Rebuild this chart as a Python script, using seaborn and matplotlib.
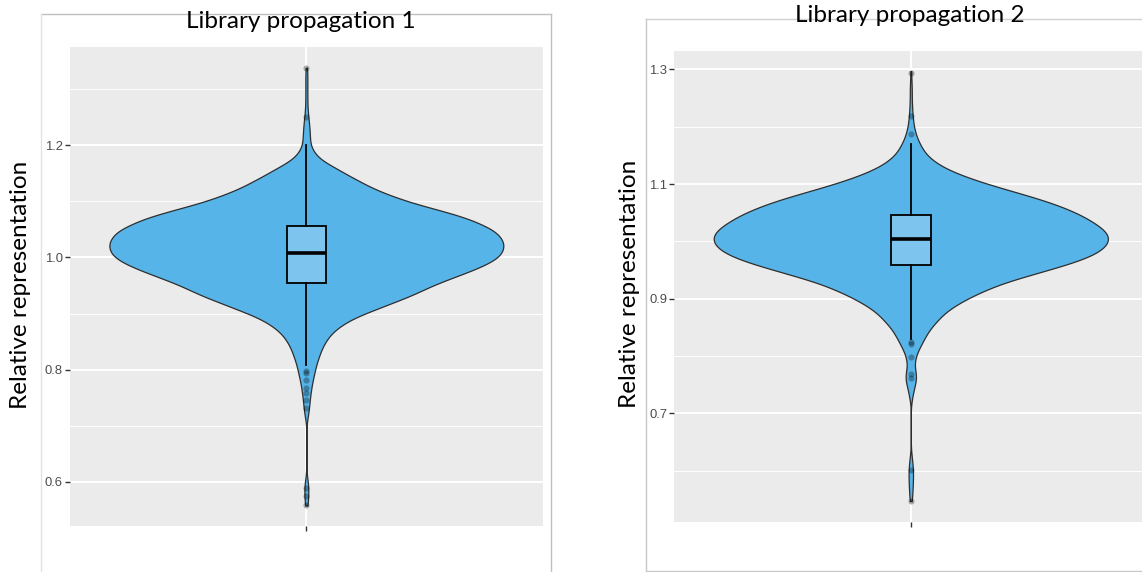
import numpy as np
import matplotlib
matplotlib.use("Agg")
import matplotlib.pyplot as plt
from matplotlib.lines import Line2D
import seaborn as sns

# Number of library members in each 0.01-wide bin of relative representation
bin_step = 0.01

bin_start_1 = 0.558
counts_1 = [5, 7, 8, 8, 7, 3, 1,
            0, 0, 0, 0, 0, 0, 0, 0,
            3, 6, 10, 12, 14, 17, 20, 24, 29, 34,
            39, 46, 54, 62, 74, 88, 108, 136, 172, 220,
            280, 336, 396, 448, 492, 548, 608, 668, 720, 760,
            782, 788, 788, 772, 752, 704, 656, 584, 500, 416,
            352, 292, 244, 204, 160, 124, 80, 48, 30, 18,
            15, 14, 13, 11, 9, 6, 5, 4, 4, 4,
            4, 4, 4, 3]

bin_start_2 = 0.547
counts_2 = [4, 6, 7, 8, 9, 9, 8, 6, 3, 1,
            0, 0, 0, 0, 0, 0, 0,
            2, 5, 10, 15, 21, 22, 17, 14, 19, 26,
            38, 50, 62, 76, 96, 116, 140, 172, 212, 256,
            308, 364, 440, 520, 600, 672, 728, 764, 784, 788,
            776, 748, 712, 672, 620, 560, 488, 408, 328, 256,
            192, 140, 100, 72, 52, 40, 28, 20, 14, 10,
            8, 6, 5, 4, 4, 4, 3, 2, 2]

# Box-plot summaries and outlying members
box_1 = dict(med=1.0075, q1=0.954, q3=1.056, whislo=0.809, whishi=1.200)
fliers_1 = [0.798, 0.794, 0.781, 0.768, 0.758, 0.746, 0.731,
            0.590, 0.575, 0.5585, 1.250, 1.337]
box_2 = dict(med=1.0044, q1=0.9592, q3=1.0455, whislo=0.8293, whishi=1.1696)
fliers_2 = [0.8246, 0.8206, 0.7984, 0.7694, 0.7617, 0.601, 0.5466,
            1.187, 1.2187, 1.2937]

titles = ["Library propagation 1", "Library propagation 2"]
ylabel = "Relative representation"
yticks_1 = [0.6, 0.8, 1.0, 1.2]
yminor_1 = [0.7, 0.9, 1.1, 1.3]
yticks_2 = [0.7, 0.9, 1.1, 1.3]
yminor_2 = [0.6, 0.8, 1.0, 1.2]

VIOLIN = "#56B4E9"
BOX = "#7DC4EF"
PANEL = "#EBEBEB"
W, H = 1142, 572

fig = plt.figure(figsize=(W / 100, H / 100), dpi=100)
fig.patch.set_facecolor("white")


def fx(px):
    return px / W


def fy(py):
    return 1 - py / H


def panel(rect, ylim, start, counts, box, fliers, ticks, minors):
    ax = fig.add_axes(rect)
    values = np.repeat(start + bin_step * np.arange(len(counts)), counts)
    bw = 0.0085 / np.std(values)
    sns.violinplot(y=values, ax=ax, color=VIOLIN, saturation=1, inner=None,
                   cut=0, width=1.0, density_norm="width", bw_method=bw,
                   gridsize=800, linewidth=0.9, linecolor="#2E2E2E")
    stats = dict(box)
    stats["fliers"] = fliers
    ax.bxp([stats], positions=[0], widths=0.1, patch_artist=True,
           showcaps=False, manage_ticks=False,
           boxprops=dict(facecolor=BOX, edgecolor="black", linewidth=1.3, zorder=3),
           whiskerprops=dict(color="black", linewidth=1.3, zorder=3),
           medianprops=dict(color="black", linewidth=2.6, zorder=4),
           flierprops=dict(marker="o", markersize=4.4, markerfacecolor="black",
                           markeredgecolor="none", alpha=0.3, zorder=5))
    ax.set_xlim(-0.6, 0.6)
    ax.set_ylim(*ylim)
    ax.set_facecolor(PANEL)
    for s in ax.spines.values():
        s.set_visible(False)
    ax.set_axisbelow(True)
    ax.set_yticks(ticks)
    ax.set_yticklabels([f"{t:.1f}" for t in ticks])
    ax.set_yticks(minors, minor=True)
    ax.set_xticks([0])
    ax.set_xticklabels([""])
    ax.set_xlabel("")
    ax.set_ylabel("")
    ax.grid(True, which="major", color="white", linewidth=1.4)
    ax.grid(True, which="minor", axis="y", color="white", linewidth=0.7)
    ax.tick_params(axis="both", which="major", length=3.7, width=1.0,
                   color="#333333", labelcolor="#4D4D4D", labelsize=9.4, pad=1.5)
    ax.tick_params(axis="y", which="minor", length=0)
    for lab in ax.get_yticklabels():
        lab.set_fontfamily("Liberation Sans")
    return ax


panel([fx(70), fy(526), fx(472.7), (526 - 47) / H], (0.5215, 1.375),
      bin_start_1, counts_1, box_1, fliers_1, yticks_1, yminor_1)
panel([fx(674.3), fy(522.3), fx(473), (522.3 - 51) / H], (0.510, 1.332),
      bin_start_2, counts_2, box_2, fliers_2, yticks_2, yminor_2)

# Slide frames around each panel
frame = dict(transform=fig.transFigure, linewidth=1.0)
fig.add_artist(Line2D([fx(41), fx(550.5)], [fy(14), fy(14)], color="#BFBFBF", **frame))
fig.add_artist(Line2D([fx(41), fx(41)], [fy(14), 0], color="#E3E3E3", **frame))
fig.add_artist(Line2D([fx(550.5), fx(550.5)], [fy(14), 0], color="#BFBFBF", **frame))
fig.add_artist(Line2D([fx(645.5), 1], [fy(18.5), fy(18.5)], color="#D0D0D0", **frame))
fig.add_artist(Line2D([fx(645.5), fx(645.5)], [fy(18.5), fy(570.5)], color="#C8C8C8", **frame))
fig.add_artist(Line2D([fx(645.5), 1], [fy(570.5), fy(570.5)], color="#C8C8C8", **frame))

text_font = ["Lato", "DejaVu Sans"]
fig.text(fx(301), fy(27.5), titles[0], ha="center", va="baseline",
         fontsize=17.5, family=text_font, color="black")
fig.text(fx(909.6), fy(22.5), titles[1], ha="center", va="baseline",
         fontsize=17.5, family=text_font, color="black")
fig.text(fx(21), fy(284.5), ylabel, ha="center", va="center", rotation=90,
         fontsize=17.5, family=text_font, color="black")
fig.text(fx(629.5), fy(284.3), ylabel, ha="center", va="center", rotation=90,
         fontsize=17.5, family=text_font, color="black")

fig.savefig("out.png", dpi=100, facecolor="white")
